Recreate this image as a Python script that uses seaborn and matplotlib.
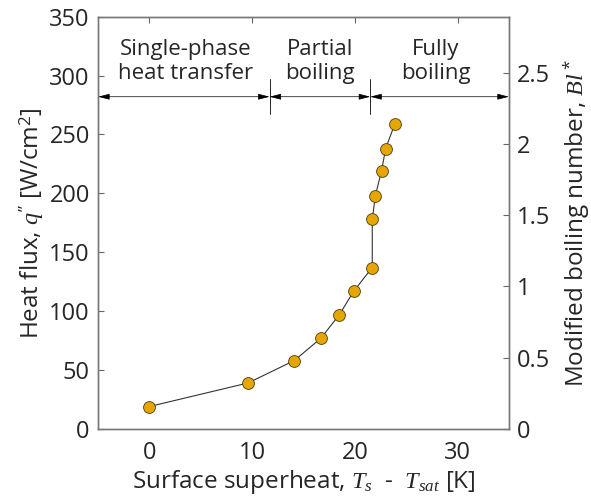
import matplotlib
matplotlib.use('Agg')
import matplotlib.pyplot as plt
import seaborn as sns
import pandas as pd

# data
superheat = [0.0, 9.6, 14.1, 16.7, 18.5, 19.9, 21.7, 21.7, 22.0, 22.6, 23.0, 23.9]
heat_flux = [19, 39, 58, 77, 97, 117, 137, 178, 198, 219, 238, 259]
bl_scale = 121.0   # q'' per unit Bl*

regions = ['Single-phase\nheat transfer', 'Partial\nboiling', 'Fully\nboiling']
region_bounds = [-5, 11.7, 21.5, 35]
region_text_x = [3.5, 16.6, 27.9]

sns.set_style('white')
plt.rcParams['font.family'] = ['Open Sans', 'DejaVu Sans']
plt.rcParams['mathtext.fontset'] = 'custom'
plt.rcParams['mathtext.rm'] = 'Open Sans'
plt.rcParams['mathtext.it'] = 'Liberation Serif:italic'

df = pd.DataFrame({'superheat': superheat, 'flux': heat_flux})

fig = plt.figure(figsize=(5.91, 5.04), dpi=100)
ax = fig.add_axes([0.166, 0.149, 0.695, 0.818])

sns.lineplot(data=df, x='superheat', y='flux', sort=False, estimator=None,
             color='#333333', linewidth=0.8, marker='o', markersize=8.5,
             markerfacecolor='#E6A600', markeredgecolor='#4a3c18',
             markeredgewidth=0.6, ax=ax)

ax.set_xlim(-5, 35)
ax.set_ylim(0, 350)
ax.set_xticks([0, 10, 20, 30])
ax.set_yticks(range(0, 351, 50))
ax.set_xlabel('Surface superheat, $T_s$  -  $T_{sat}$ [K]', fontsize=17.5, labelpad=2)
ax.set_ylabel('Heat flux, $q^{\u201d}$ [W/cm$^2$]', fontsize=17.5, labelpad=2)
ax.tick_params(axis='both', direction='in', length=4, width=0.8, color='#666666',
               labelsize=17, top=True, pad=6)
ax.tick_params(axis='x', pad=9)
ax.tick_params(axis='y', right=False)

for s in ax.spines.values():
    s.set_color('#777777')
    s.set_linewidth(1.0)

ax2 = ax.twinx()
ax2.set_ylim(0, 350 / bl_scale)
ax2.set_yticks([0, 0.5, 1, 1.5, 2, 2.5])
ax2.set_yticklabels(['0', '0.5', '1', '1.5', '2', '2.5'])
ax2.tick_params(axis='y', direction='in', length=4, width=0.8, color='#666666',
                labelsize=17, pad=6)
ax2.set_ylabel('Modified boiling number, $Bl^*$', fontsize=17.5, labelpad=8)
for s in ax2.spines.values():
    s.set_color('#777777')
    s.set_linewidth(1.0)
ax2.grid(False)

# regime arrows
arrow_y = 282
for i in range(3):
    ax.annotate('', xy=(region_bounds[i + 1], arrow_y), xytext=(region_bounds[i], arrow_y),
                arrowprops=dict(arrowstyle='<|-|>,head_length=0.7,head_width=0.18',
                                color='black', lw=0.5, shrinkA=0, shrinkB=0),
                annotation_clip=False)
    ax.text(region_text_x[i], 312, regions[i], ha='center', va='center',
            fontsize=16, linespacing=1.2)
for b in region_bounds[1:3]:
    ax.plot([b, b], [267, 297], color='black', lw=0.6)

fig.savefig('out.png', dpi=100)
